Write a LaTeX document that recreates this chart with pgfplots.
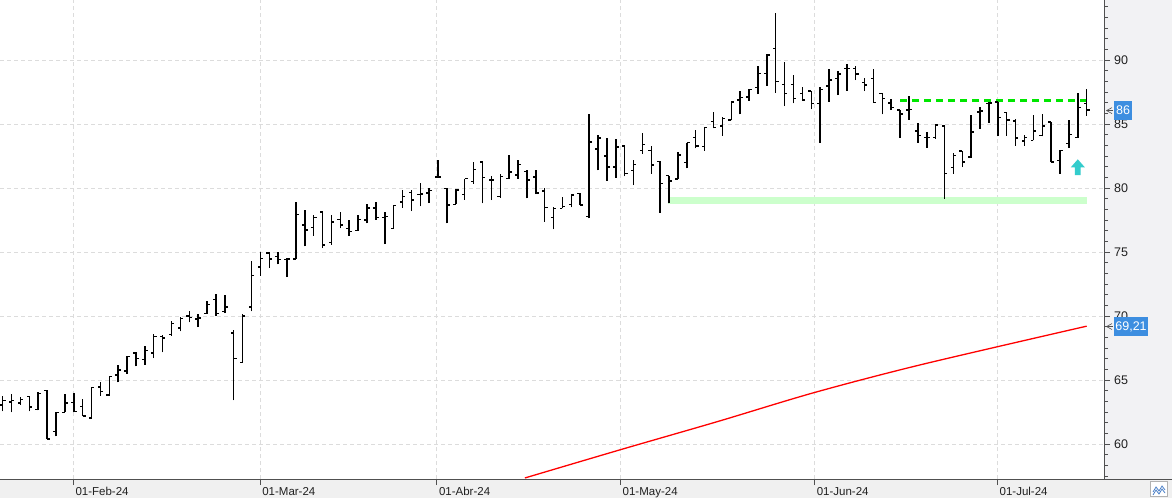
\documentclass[border=0pt]{standalone}
\usepackage{fontspec}
\setmainfont{Liberation Sans}
\usepackage{pgfplots}
\pgfplotsset{compat=1.18}
\usepackage{pgfplotstable}
\definecolor{gridc}{HTML}{DCDCDC}
\definecolor{axisc}{HTML}{505050}
\definecolor{labc}{HTML}{202020}
\definecolor{panel}{HTML}{F2F2F4}
\definecolor{band}{HTML}{F0F0F0}
\definecolor{boxblue}{HTML}{3D8EE0}
\definecolor{sigcyan}{HTML}{33CCCC}
\definecolor{resgreen}{HTML}{00E600}
\definecolor{supgreen}{HTML}{CCFFCC}
\definecolor{iconblue}{HTML}{4A80C8}

\pgfplotstableread{
x o h l c
1 63.07 63.72 62.55 63.41
2 63.30 63.93 62.47 63.40
3 63.20 63.67 63.07 63.50
4 63.72 63.78 62.55 62.90
5 62.68 64.10 62.63 63.93
6 64.20 64.20 60.39 60.40
7 60.98 62.54 60.60 62.46
8 62.47 63.93 62.47 63.20
9 63.25 63.98 62.47 62.55
10 62.94 63.52 62.16 62.20
11 62.03 64.45 62.03 64.40
12 64.45 64.88 63.77 64.10
13 63.84 65.32 63.77 65.28
14 65.40 66.20 64.82 65.80
15 65.70 66.90 65.50 66.85
16 67.10 67.19 66.07 66.70
17 66.60 67.68 66.20 67.30
18 67.10 68.60 66.72 68.40
19 68.40 68.54 67.16 68.30
20 68.54 69.64 68.46 69.40
21 69.06 69.92 68.80 69.80
22 70.00 70.36 69.50 69.90
23 69.77 70.18 69.14 69.85
24 70.18 71.15 70.18 70.90
25 71.30 71.70 70.00 70.20
26 70.36 71.67 70.23 70.69
27 68.67 68.93 63.41 66.67
28 66.38 70.18 66.38 70.00
29 70.69 74.33 70.36 73.18
30 73.82 75.00 73.13 74.49
31 74.92 75.00 73.77 74.46
32 74.64 75.00 74.03 74.40
33 74.41 74.54 73.05 74.46
34 74.46 78.90 74.46 77.92
35 77.10 78.26 75.44 76.72
36 76.92 77.87 76.26 77.69
37 78.13 78.13 75.30 75.56
38 75.74 77.92 75.56 77.36
39 77.54 78.13 76.85 77.10
40 76.85 77.49 76.26 76.59
41 76.67 77.92 76.67 77.54
42 77.49 78.72 77.23 78.46
43 78.46 78.90 77.54 77.69
44 77.69 78.13 75.62 77.79
45 76.85 78.64 76.85 78.64
46 78.90 79.85 78.46 79.33
47 79.67 79.85 78.20 79.08
48 79.49 80.38 78.56 79.54
49 79.62 79.97 78.82 79.80
50 80.88 82.20 80.84 80.86
51 79.98 80.00 77.24 78.68
52 78.72 79.90 78.72 79.83
53 79.50 80.74 79.10 80.74
54 80.53 82.03 80.35 81.43
55 82.03 82.08 78.80 80.81
56 80.61 80.94 79.06 80.61
57 79.32 81.12 79.26 80.92
58 80.74 82.55 80.74 81.25
59 81.00 82.21 80.74 81.85
60 81.30 81.43 79.19 80.61
61 80.87 81.43 79.52 79.63
62 79.75 80.00 77.38 78.49
63 77.71 78.49 76.78 78.41
64 78.41 79.32 78.41 78.54
65 78.72 79.57 78.49 79.44
66 79.57 79.63 78.67 78.67
67 77.76 85.78 77.64 83.58
68 83.06 84.17 81.38 83.89
69 82.49 83.91 80.56 81.64
70 81.64 83.84 80.81 83.19
71 83.27 83.27 80.92 81.12
72 81.38 82.21 80.22 81.85
73 82.93 84.27 82.66 83.40
74 82.95 83.25 81.13 81.80
75 82.07 82.15 78.07 80.35
76 80.97 80.97 78.80 80.55
77 80.70 82.84 80.70 82.58
78 81.98 83.54 81.53 83.54
79 83.96 84.53 83.10 83.30
80 83.23 84.79 82.92 84.74
81 85.18 85.91 84.66 84.71
82 84.84 85.52 84.09 85.44
83 85.31 86.74 85.31 86.74
84 86.87 87.60 85.75 87.08
85 87.13 87.70 86.82 87.70
86 87.86 89.53 87.34 88.96
87 88.96 90.47 87.99 90.39
88 90.91 93.64 87.45 88.31
89 88.10 89.87 86.40 87.40
90 88.10 88.83 86.61 87.00
91 87.40 87.86 86.87 86.87
92 87.60 87.60 86.14 86.61
93 86.61 87.86 83.54 87.70
94 87.97 89.27 86.74 88.44
95 88.57 89.14 87.26 88.90
96 89.35 89.69 87.60 89.35
97 89.35 89.53 88.44 88.90
98 88.23 88.57 87.58 88.05
99 88.57 89.27 86.69 86.69
100 87.40 87.40 85.75 87.00
101 86.63 86.96 86.09 86.30
102 86.08 86.13 83.93 85.77
103 86.08 87.18 85.35 86.13
104 84.46 85.09 83.52 84.12
105 83.94 84.38 83.13 83.94
106 83.94 84.98 83.86 84.91
107 84.83 84.91 79.16 81.12
108 81.59 82.74 81.12 82.56
109 82.90 82.90 81.64 82.03
110 82.43 85.69 82.37 84.38
111 85.95 86.34 84.64 86.03
112 86.60 86.73 85.09 86.66
113 86.73 86.73 84.04 85.50
114 85.90 85.95 84.07 85.30
115 85.25 85.43 83.29 83.91
116 83.68 84.12 83.29 83.94
117 83.73 85.69 83.73 84.46
118 84.12 85.77 84.04 84.83
119 85.17 85.17 82.03 82.03
120 82.17 82.95 81.12 82.95
121 83.47 85.35 83.16 84.17
122 83.94 87.39 83.91 86.29
123 86.60 87.70 85.64 86.08
}\ohlc

\pgfdeclareplotmark{uparrow}{%
  \pgfpathmoveto{\pgfqpoint{0pt}{8pt}}%
  \pgfpathlineto{\pgfqpoint{7pt}{0pt}}%
  \pgfpathlineto{\pgfqpoint{2.85pt}{0pt}}%
  \pgfpathlineto{\pgfqpoint{2.85pt}{-7.7pt}}%
  \pgfpathlineto{\pgfqpoint{-2.85pt}{-7.7pt}}%
  \pgfpathlineto{\pgfqpoint{-2.85pt}{0pt}}%
  \pgfpathlineto{\pgfqpoint{-7pt}{0pt}}%
  \pgfpathclose
  \pgfusepathqfill
}

\begin{document}
\begin{tikzpicture}
\path[use as bounding box] (0,0) rectangle (1172pt,501pt);
\fill[white] (0,0) rectangle (1172pt,501pt);
\fill[panel] (1104pt,22pt) rectangle (1172pt,501pt);
\fill[band] (0,3pt) rectangle (1172pt,22pt);
\draw[axisc, line width=1pt] (0,22pt) -- (1172pt,22pt);
\begin{axis}[
  at={(0pt,22pt)}, anchor=south west,
  scale only axis, width=1104pt, height=479pt,
  xmin=0.696, xmax=124.95, ymin=57.27, ymax=94.69,
  axis x line*=bottom, axis y line*=right,
  axis line style={draw=axisc, line width=1pt},
  xtick={8.95,29.97,49.86,70.53,92.38,112.96},
  xticklabels={01-Feb-24,01-Mar-24,01-Abr-24,01-May-24,01-Jun-24,01-Jul-24},
  ytick={60,65,70,75,80,85,90},
  minor ytick={55.8333,56.6667,57.5,58.3333,59.1667,60.8333,61.6667,62.5,63.3333,64.1667,65.8333,66.6667,67.5,68.3333,69.1667,70.8333,71.6667,72.5,73.3333,74.1667,75.8333,76.6667,77.5,78.3333,79.1667,80.8333,81.6667,82.5,83.3333,84.1667,85.8333,86.6667,87.5,88.3333,89.1667,90.8333,91.6667,92.5,93.3333,94.1667},
  tick align=outside,
  major tick length=6pt, minor tick length=4pt,
  tick style={draw=axisc, line width=1pt},
  xmajorgrids, ymajorgrids,
  major grid style={draw=gridc, dash pattern=on 4pt off 3pt, line width=0.9pt},
  xticklabel style={font=\fontsize{11.5}{13}\selectfont, text=labc, anchor=north west, inner sep=0pt, xshift=2pt, yshift=-2pt},
  yticklabel style={font=\fontsize{12.5}{14}\selectfont, text=labc, anchor=west, inner sep=0pt, xshift=4pt},
  /pgf/number format/assume math mode=true,
]
% support band and resistance line
\addplot[supgreen, line width=7pt] coordinates {(75.9,79.04) (123,79.04)};
\addplot[resgreen, line width=3pt, dash pattern=on 7.3pt off 4.7pt] coordinates {(102,86.86) (123,86.86)};
% moving average
\addplot[red, line width=1.3pt, smooth, tension=0.5] coordinates {(59.77,57.35) (70.53,59.56) (81.52,61.77) (92.38,64.03) (104.35,66.2) (123,69.21)};
% OHLC bars
\addplot[black, line width=1.5pt, quiver={u=0, v=\thisrow{h}-\thisrow{l}}] table[x=x, y=l] {\ohlc};
\addplot[black, line width=1.5pt, quiver={u=-0.32, v=0}] table[x=x, y=o] {\ohlc};
\addplot[black, line width=1.5pt, quiver={u=0.32, v=0}] table[x=x, y=c] {\ohlc};
% signal arrow
\addplot[sigcyan, only marks, mark=uparrow, mark options={fill=sigcyan, draw=none}] coordinates {(122,81.62)};
\coordinate (c86) at (axis cs:124.95,86.05);
\coordinate (c69) at (axis cs:124.95,69.18);
\end{axis}
\node[fill=boxblue, text=white, anchor=west, inner xsep=2pt, inner ysep=0pt, minimum height=18.3pt, font=\fontsize{12.5}{14}\selectfont] at ([xshift=10pt]c86) {86};
\node[fill=boxblue, text=white, anchor=west, inner xsep=1.2pt, inner ysep=0pt, minimum height=18.3pt, font=\fontsize{12.5}{14}\selectfont] at ([xshift=10pt]c69) {69,21};
\draw[axisc, line width=0.6pt] ([xshift=8pt,yshift=3pt]c86) -- ([xshift=2.5pt]c86) -- ([xshift=8pt,yshift=-3pt]c86);
\draw[axisc, line width=0.6pt] ([xshift=2.5pt]c86) -- ([xshift=9pt]c86);
\draw[axisc, line width=0.6pt] ([xshift=8pt,yshift=3pt]c69) -- ([xshift=2.5pt]c69) -- ([xshift=8pt,yshift=-3pt]c69);
\draw[axisc, line width=0.6pt] ([xshift=2.5pt]c69) -- ([xshift=9pt]c69);
% bottom-right button
\draw[gray!60, fill=white, line width=0.8pt] (1150.7pt,4.3pt) rectangle (1167.3pt,19.3pt);
\draw[iconblue, line width=0.8pt] (1153pt,9pt) -- (1156pt,14pt) -- (1159pt,10pt) -- (1162pt,15pt) -- (1165pt,11pt);
\draw[iconblue, line width=0.8pt] (1153pt,6pt) -- (1156pt,11pt) -- (1159pt,7pt) -- (1162pt,12pt) -- (1165pt,8pt);
\end{tikzpicture}
\end{document}
